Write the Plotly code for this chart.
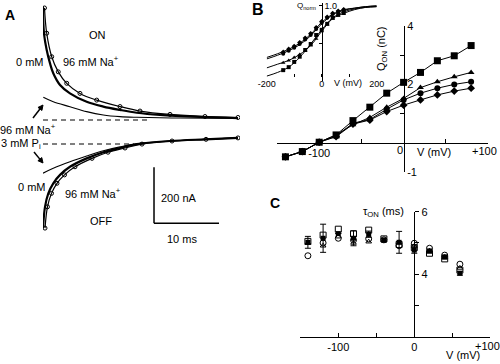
import plotly.graph_objects as go

W, H = 500, 364
FONT = "Liberation Sans, Arial, sans-serif"


def px(x):
    return x / W


def py(y):
    return 1 - y / H


# ---------------- Panel A data (time in ms, current in nA) ----------------
t_on_0 = [0, 0.15, 0.57, 1.08, 1.58, 2.62, 4.15, 6.72, 9.28, 11.85, 14.42, 18.0, 24.15, 30.0]
i_on_0 = [405, 310, 250, 202, 167, 125, 95, 65, 48, 36, 26, 18, 11, 7]
t_on_96 = [0.23, 0.57, 1.34, 2.35, 3.65, 5.69, 8.26, 11.85, 14.92, 19.54, 24.92, 30.0]
i_on_96 = [400, 310, 226, 172, 131, 95, 71, 48, 32, 20, 12.5, 9]
t_on_pi = [0.05, 1.58, 4.15, 6.72, 9.28, 11.85, 14.42, 21.08, 30.0]
i_on_pi = [81, 65, 47.5, 30, 18, 12, 9.6, 7, 5.4]

t_off_0 = [0, 0.31, 0.82, 1.58, 2.62, 4.15, 6.72, 9.28, 11.85, 14.42, 19.54, 24.92, 30.0]
i_off_0 = [-387, -310, -262, -226, -196, -167, -137, -115, -100, -86, -75, -69, -64]
t_off_96 = [0.31, 0.69, 1.31, 2.15, 3.31, 4.92, 7.54, 10.0, 12.62, 15.23, 19.85, 25.08, 30.0]
i_off_96 = [-386, -310, -262, -226, -196, -167, -137, -115, -100, -86, -75, -69, -64]
t_off_pi = [0, 1.58, 4.15, 6.72, 9.28, 11.85, 14.42, 19.54, 24.92, 30.0]
i_off_pi = [-190, -172.5, -149, -128.6, -110, -96, -85, -75, -69, -64]

t_base_on = [0, 16]
i_base_on = [0, 0]
t_base_off = [0, 14]
i_base_off = [-85.7, -85.7]

sb_t0, sb_dt = 17.08, 10      # scale bar: 10 ms
sb_i0, sb_di = -369, 200      # scale bar: 200 nA

# ---------------- Panel B data ----------------
V_B = [-140, -120, -100, -80, -60, -40, -20, 0, 20, 40, 60, 80]
q_sq = [-0.48, -0.30, 0.02, 0.27, 0.76, 1.22, 1.70, 2.07, 2.41, 2.81, 2.98, 3.33]
q_tri = [-0.48, -0.30, 0.02, 0.27, 0.62, 0.87, 1.22, 1.52, 1.89, 2.09, 2.26, 2.41]
q_circ = [-0.48, -0.30, 0.02, 0.23, 0.67, 0.80, 1.15, 1.47, 1.70, 1.87, 2.00, 2.09]
q_dia = [-0.48, -0.30, 0.02, 0.21, 0.64, 0.78, 1.07, 1.29, 1.47, 1.64, 1.77, 1.87]

# inset (normalised charge)
qn_sq = [0.14, 0.18, 0.25, 0.32, 0.41, 0.49, 0.61, 0.68, 0.76, 0.84, 0.88, 0.91]
qn_tri = [0.24, 0.27, 0.31, 0.35, 0.40, 0.47, 0.56, 0.66, 0.75, 0.83, 0.87, 0.89]
qn_circ = [0.36, 0.40, 0.44, 0.49, 0.55, 0.61, 0.69, 0.77, 0.84, 0.89, 0.92, 0.94]
qn_dia = [0.38, 0.42, 0.46, 0.51, 0.57, 0.63, 0.71, 0.79, 0.85, 0.90, 0.93, 0.95]
V_fit = [-200, -160, -120, -80, -40, 0, 40, 80, 120, 160, 200]
fit_sq = [0.06, 0.11, 0.18, 0.31, 0.49, 0.68, 0.84, 0.92, 0.96, 0.98, 0.99]
fit_tri = [0.17, 0.22, 0.27, 0.35, 0.47, 0.66, 0.83, 0.90, 0.95, 0.98, 0.99]
fit_circ = [0.29, 0.34, 0.40, 0.48, 0.60, 0.76, 0.88, 0.94, 0.97, 0.99, 1.0]
fit_dia = [0.31, 0.36, 0.42, 0.50, 0.62, 0.78, 0.89, 0.95, 0.97, 0.99, 1.0]

# ---------------- Panel C data ----------------
V_C = [-140, -120, -100, -80, -60, -40, -20, 0, 20, 40, 60]
tau_fsq = [5.02, 5.15, 5.30, 5.15, 5.28, 5.09, 5.02, 4.77, 4.74, 4.55, 4.03]
err_fsq = [0.19, 0.45, 0.0, 0.24, 0.10, 0.05, 0.35, 0.10, 0.06, 0.06, 0.06]
tau_sq = [5.05, 5.25, 5.44, 5.29, 5.41, 5.13, 4.95, 4.85, 4.67, 4.49, 4.13]
tau_circ = [4.59, 5.00, 5.15, 5.09, 5.13, 5.10, 4.91, 4.99, 4.83, 4.61, 4.32]
tau_tri = [5.00, 4.91, 5.20, 5.00, 5.04, 5.08, 5.02, 4.90, 4.75, 4.55, 4.20]

fig = go.Figure()

# ---- Panel A traces ----
A = dict(xaxis="x", yaxis="y", showlegend=False, hoverinfo="skip")
fig.add_trace(go.Scatter(x=t_on_0, y=i_on_0, mode="lines", line=dict(color="black", width=2.2, shape="spline"), **A))
fig.add_trace(go.Scatter(x=t_on_96, y=i_on_96, mode="lines+markers", line=dict(color="black", width=1.2, shape="spline"),
                         marker=dict(symbol="circle-open", size=4, color="black", line=dict(width=1)), **A))
fig.add_trace(go.Scatter(x=t_on_pi, y=i_on_pi, mode="lines", line=dict(color="black", width=1.1, shape="spline"), **A))
fig.add_trace(go.Scatter(x=t_off_0, y=i_off_0, mode="lines", line=dict(color="black", width=2.2, shape="spline"), **A))
fig.add_trace(go.Scatter(x=t_off_96, y=i_off_96, mode="lines+markers", line=dict(color="black", width=1.2, shape="spline"),
                         marker=dict(symbol="circle-open", size=4, color="black", line=dict(width=1)), **A))
fig.add_trace(go.Scatter(x=t_off_pi, y=i_off_pi, mode="lines", line=dict(color="black", width=1.1, shape="spline"), **A))
fig.add_trace(go.Scatter(x=t_base_on, y=i_base_on, mode="lines", line=dict(color="black", width=1, dash="5px,4px"), **A))
fig.add_trace(go.Scatter(x=t_base_off, y=i_base_off, mode="lines", line=dict(color="black", width=1, dash="5px,4px"), **A))

# ---- Panel B main ----
B = dict(xaxis="x2", yaxis="y2", showlegend=False, hoverinfo="skip", cliponaxis=False)
for q, sym, sz in [(q_sq, "square", 7), (q_tri, "triangle-up", 6), (q_circ, "circle", 6), (q_dia, "diamond", 6)]:
    fig.add_trace(go.Scatter(x=V_B, y=q, mode="lines+markers", line=dict(color="black", width=1),
                             marker=dict(symbol=sym, size=sz, color="black"), **B))

# ---- Panel B inset ----
I3 = dict(xaxis="x3", yaxis="y3", showlegend=False, hoverinfo="skip", cliponaxis=False)
for f in [fit_sq, fit_tri, fit_circ, fit_dia]:
    fig.add_trace(go.Scatter(x=V_fit, y=f, mode="lines", line=dict(color="black", width=1, shape="spline"), **I3))
for q, sym, sz in [(qn_sq, "square", 4), (qn_tri, "triangle-up", 4), (qn_circ, "circle", 4), (qn_dia, "diamond", 4)]:
    fig.add_trace(go.Scatter(x=V_B, y=q, mode="markers", marker=dict(symbol=sym, size=sz, color="black"), **I3))

# ---- Panel C ----
C = dict(xaxis="x4", yaxis="y4", showlegend=False, hoverinfo="skip", cliponaxis=False)
fig.add_trace(go.Scatter(x=V_C, y=tau_fsq, mode="markers", marker=dict(symbol="square", size=5, color="black"),
                         error_y=dict(type="data", array=err_fsq, color="black", thickness=1, width=3), **C))
fig.add_trace(go.Scatter(x=V_C, y=tau_sq, mode="markers",
                         marker=dict(symbol="square-open", size=6, color="black", line=dict(width=1)), **C))
fig.add_trace(go.Scatter(x=V_C, y=tau_circ, mode="markers",
                         marker=dict(symbol="circle-open", size=6, color="black", line=dict(width=1)), **C))
fig.add_trace(go.Scatter(x=V_C, y=tau_tri, mode="markers",
                         marker=dict(symbol="triangle-up-open", size=5, color="black", line=dict(width=1)), **C))

# ---------------- Layout / axes ----------------
tickfont = dict(family=FONT, size=11, color="black")
smallfont = dict(family=FONT, size=9, color="black")


def minor(vals, side_ticks="inside", ln=4):
    return dict(tickvals=vals, ticks=side_ticks, ticklen=ln, tickcolor="black", tickwidth=1, showgrid=False)


common = dict(showline=True, linecolor="black", linewidth=1, showgrid=False, zeroline=False,
              tickcolor="black", tickwidth=1, fixedrange=True, automargin=False, ticklabeloverflow="allow")

layout = dict(
    template="none",
    width=W, height=H, autosize=False, margin=dict(l=0, r=0, t=0, b=0, pad=0, autoexpand=False),
    paper_bgcolor="white", plot_bgcolor="rgba(0,0,0,0)", showlegend=False,
    font=dict(family=FONT, size=11, color="black"),
    # Panel A
    xaxis=dict(domain=[px(43), px(240)], range=[0, 30.31], visible=False, fixedrange=True, automargin=False),
    yaxis=dict(domain=[py(240), py(0)], range=[-428.5, 428.5], visible=False, fixedrange=True, automargin=False),
    # Panel B main
    xaxis2=dict(domain=[px(277), px(488)], range=[-150, 100], anchor="free", position=py(143),
                ticks="inside", ticklen=4, tickvals=[-100], ticktext=["-100"],
                minor=minor([-150, -50, 50, 100]), tickfont=tickfont, **common),
    yaxis2=dict(domain=[py(172), py(26)], range=[-1, 4], anchor="free", position=px(404), side="right",
                ticks="inside", ticklen=4, tickvals=[-1, 2, 4], ticktext=["-1", "2", "4"],
                minor=minor([1, 3]), tickfont=tickfont, **common),
    # Panel B inset
    xaxis3=dict(domain=[px(266.7), px(376.7)], range=[-200, 200], anchor="free", position=py(77),
                showline=False, showgrid=False, zeroline=False, tickcolor="black", fixedrange=True,
                automargin=False, ticklabeloverflow="allow",
                ticks="inside", ticklen=3, tickvals=[-200, 0, 200], ticktext=["-200", "0", "200"],
                minor=minor([-100, 100], ln=3), tickfont=smallfont),
    yaxis3=dict(domain=[py(80.6), py(2.9)], range=[0, 1.04], anchor="free", position=px(321.7), side="right",
                ticks="inside", ticklen=3, tickvals=[1.0], ticktext=["1.0"],
                minor=minor([0.5], ln=3), tickfont=smallfont, **common),
    # Panel C
    xaxis4=dict(domain=[px(300.3), px(490.3)], range=[-150, 100], anchor="y4",
                ticks="inside", ticklen=4, tickvals=[-100, 0], ticktext=["-100", "0"],
                minor=minor([-150, -50, 50, 100]), tickfont=tickfont, **common),
    yaxis4=dict(domain=[py(336.7), py(211.7)], range=[2, 6], anchor="free", position=px(414.3), side="right",
                ticks="outside", ticklen=4, tickvals=[4, 6], ticktext=["4", "6"],
                minor=minor([3, 5], side_ticks="outside"), tickfont=tickfont, **common),
)
fig.update_layout(**layout)

# scale bar for panel A
fig.add_shape(type="line", xref="x", yref="y", x0=sb_t0, x1=sb_t0, y0=sb_i0, y1=sb_i0 + sb_di,
              line=dict(color="black", width=1.5))
fig.add_shape(type="line", xref="x", yref="y", x0=sb_t0, x1=sb_t0 + sb_dt, y0=sb_i0, y1=sb_i0,
              line=dict(color="black", width=1.5))


def label(text, x, y, size=11, bold=False, angle=0):
    fig.add_annotation(text=("<b>%s</b>" % text) if bold else text, x=px(x), y=py(y), xref="paper", yref="paper",
                       showarrow=False, xanchor="center", yanchor="middle", textangle=angle,
                       font=dict(family=FONT, size=size, color="black"))


label("A", 10, 15, 14, bold=True)
label("B", 258, 9, 16, bold=True)
label("C", 275, 203, 14, bold=True)

label("ON", 97, 35)
label("0 mM", 30, 62)
label("96 mM Na<sup>+</sup>", 91, 61)
label("96 mM Na<sup>+</sup>", 28, 129)
label("3 mM P<sub>i</sub>", 21, 144)
label("0 mM", 32, 187)
label("96 mM Na<sup>+</sup>", 93, 193)
label("OFF", 101, 221)
label("200 nA", 179, 198)
label("10 ms", 182, 239)

label("Q<sub>ON</sub> (nC)", 382, 49, angle=-90)
label("V (mV)", 434, 152)
label("0", 400, 150)
label("+100", 484, 151)
label("Q<sub>norm</sub>", 306, 6, 8)
label("V (mV)", 348, 83, 9)

label("τ<sub>ON</sub> (ms)", 383, 212)
label("V (mV)", 463, 355)
label("+100", 487, 346)


# arrows in panel A (shaft + filled head)
def arrow(tx, ty, hx, hy, head=5.0, half=2.5):
    dx, dy = hx - tx, hy - ty
    ln = (dx * dx + dy * dy) ** 0.5
    ux, uy = dx / ln, dy / ln
    bx, by = hx - head * ux, hy - head * uy
    nx, ny = -uy * half, ux * half
    fig.add_shape(type="line", xref="paper", yref="paper", x0=px(tx), y0=py(ty), x1=px(bx), y1=py(by),
                  line=dict(color="black", width=1.5))
    path = "M %f %f L %f %f L %f %f Z" % (px(hx), py(hy), px(bx + nx), py(by + ny), px(bx - nx), py(by - ny))
    fig.add_shape(type="path", xref="paper", yref="paper", path=path, fillcolor="black",
                  line=dict(color="black", width=1))


arrow(33, 118, 43, 105)
arrow(34, 152, 43, 163)

fig.write_html(
    "out.html",
    config={"displayModeBar": False, "responsive": False, "staticPlot": True},
    post_script="document.documentElement.style.overflow='hidden';"
                "document.body.style.margin='0';document.body.style.overflow='hidden';",
)
